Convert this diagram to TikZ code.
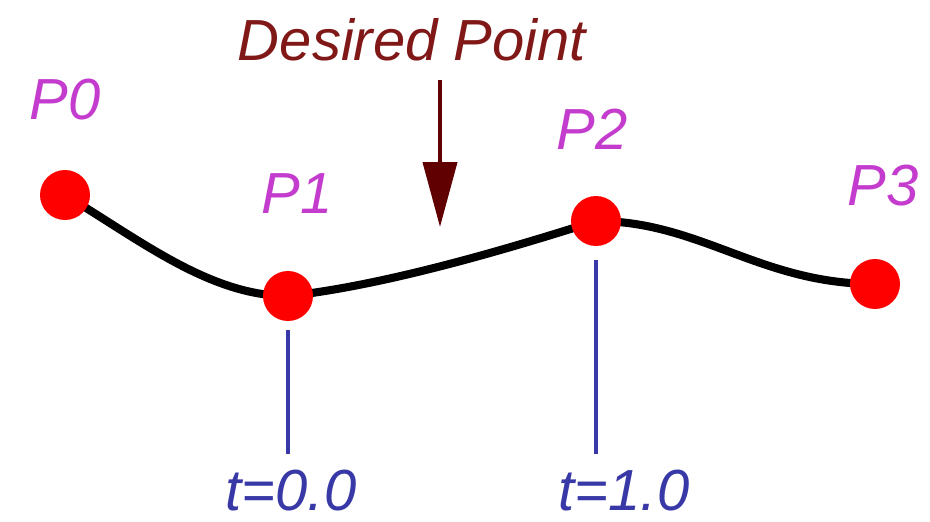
\documentclass[tikz,border=0pt]{standalone}
\usepackage{fontspec}
\setmainfont{Liberation Sans}
\usetikzlibrary{arrows.meta, positioning, backgrounds}
\usepackage{xcolor}
\definecolor{ptpurple}{RGB}{196,60,206}
\definecolor{wantred}{RGB}{128,24,24}
\definecolor{arrowred}{RGB}{96,0,0}
\definecolor{tickblue}{RGB}{56,56,166}

\begin{document}
\begin{tikzpicture}[
    x=0.02cm, y=-0.02cm,
    dot/.style={circle, fill=red, minimum size=1cm, inner sep=0pt},
    ptlabel/.style={font=\fontsize{33}{36}\selectfont\itshape, text=ptpurple, inner sep=0pt},
    tlabel/.style={font=\fontsize{33}{36}\selectfont\itshape, text=tickblue, inner sep=0pt},
    want/.style={font=\fontsize{33}{36}\selectfont\itshape, text=wantred, inner sep=0pt},
    curve/.style={line width=4.6pt, black, line cap=round},
    tick/.style={line width=2.8pt, tickblue},
    pointer/.style={-{Triangle[length=1.3cm, width=0.68cm]}, line width=2.3pt, arrowred}
]
    \useasboundingbox (0,0) rectangle (930,521);

    % control points
    \node[dot] (p0) at (65,195) {};
    \node[dot] (p1) at (288,296) {};
    \node[dot] (p2) at (596,221) {};
    \node[dot] (p3) at (875,284) {};

    \node[ptlabel] (l0) at (65,100) {P0};
    \node[ptlabel] (l1) at (297,194) {P1};
    \node[ptlabel] (l2) at (592,129) {P2};
    \node[ptlabel] (l3) at (883,186) {P3};

    % the spline, behind the dots
    \begin{pgfonlayer}{background}
        \draw[curve] (p0.center) .. controls (140,240) and (210,296) .. (p1.center)
            .. controls (390,285) and (520,245) .. (p2.center)
            .. controls (700,221) and (760,284) .. (p3.center);
    \end{pgfonlayer}

    % parameter marks
    \node[tlabel] (t0) at (291,491) {t=0.0};
    \node[tlabel] (t1) at (624,491) {t=1.0};
    \coordinate (e0) at (288,454);
    \coordinate (e1) at (596,454);
    \draw[tick, shorten <=0.18cm] (p1) -- (e0);
    \draw[tick, shorten <=0.28cm] (p2) -- (e1);

    % desired point
    \node[want] (goal) at (412,40) {Desired Point};
    \coordinate (tail) at (440,80);
    \coordinate (aim) at (440,227);
    \draw[pointer] (tail) -- (aim);

\end{tikzpicture}
\end{document}
